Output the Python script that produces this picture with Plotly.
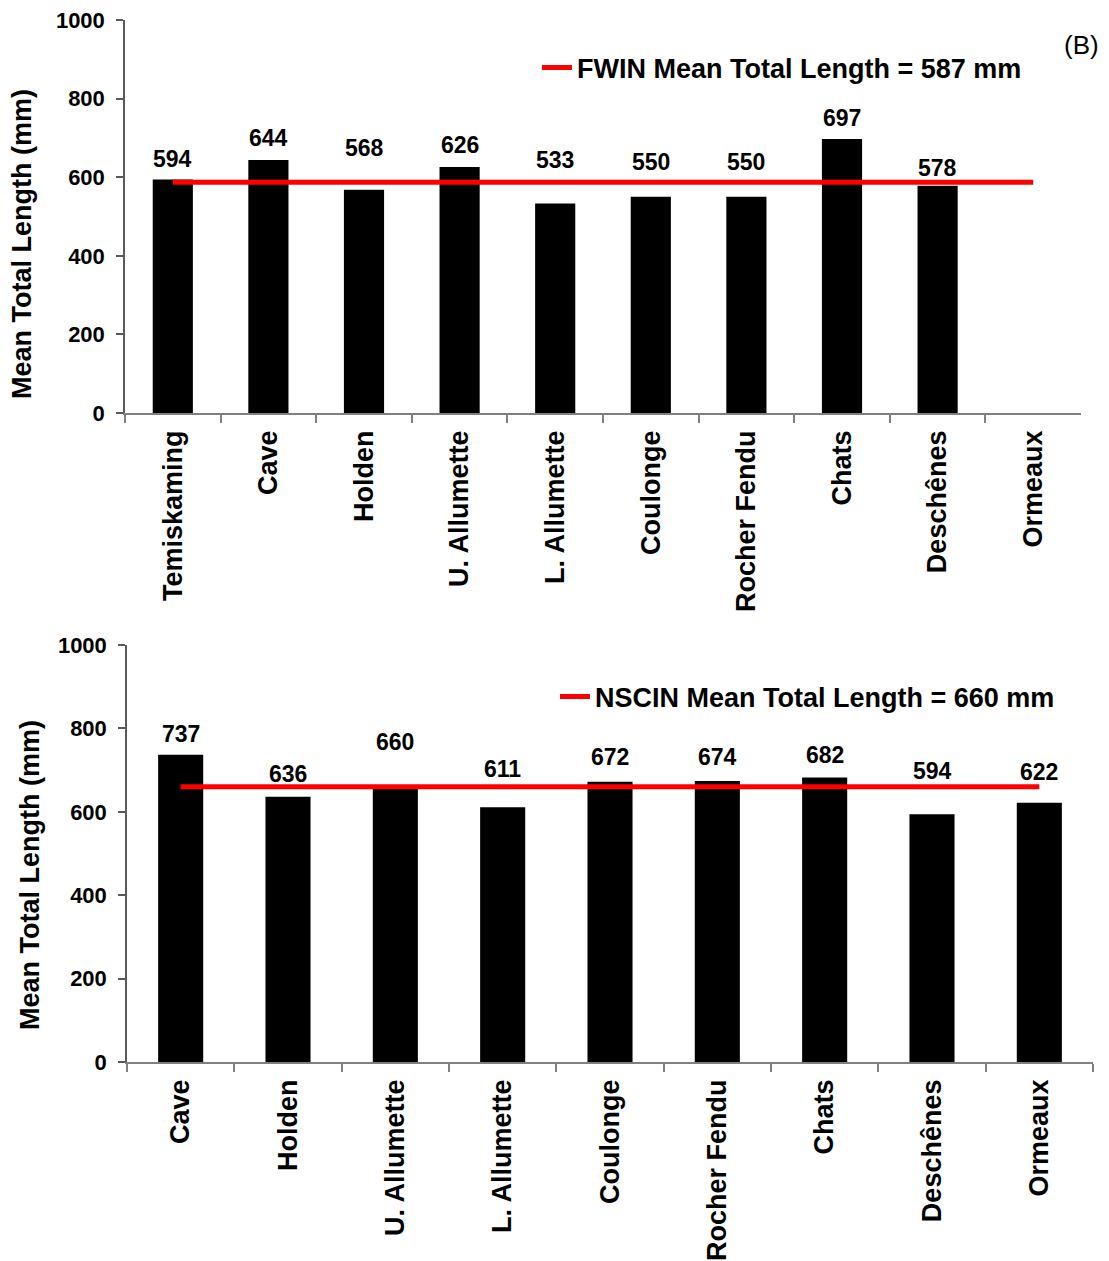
import plotly.graph_objects as go

# ---------------- data ----------------
top_categories = ["Temiskaming", "Cave", "Holden", "U. Allumette", "L. Allumette",
                  "Coulonge", "Rocher Fendu", "Chats", "Deschênes", "Ormeaux"]
top_values = [594, 644, 568, 626, 533, 550, 550, 697, 578, None]
top_mean = 587
top_mean_label = "FWIN Mean Total Length = 587 mm"

bottom_categories = ["Cave", "Holden", "U. Allumette", "L. Allumette", "Coulonge",
                     "Rocher Fendu", "Chats", "Deschênes", "Ormeaux"]
bottom_values = [737, 636, 660, 611, 672, 674, 682, 594, 622]
bottom_mean = 660
bottom_mean_label = "NSCIN Mean Total Length = 660 mm"

y_ticks = [0, 200, 400, 600, 800, 1000]

# label offsets (pixels above bar top), styling only
top_label_shift = [21, 22, 42, 22, 44, 35, 35, 21, 18]
bottom_label_shift = [21, 23, 45, 38, 25, 24, 23, 43, 31]

# ---------------- layout constants ----------------
W, H = 1109, 1261
OFF = 8  # page body margin
FW, FH = W - OFF, H - OFF
FONT = "Liberation Sans, Arial, sans-serif"


def px_x(v):
    return (v - OFF) / FW


def px_y(v):
    return 1 - (v - OFF) / FH


fig = go.Figure()

fig.add_trace(go.Bar(x=top_categories, y=top_values, marker_color="black",
                     marker_line_width=0, showlegend=False,
                     xaxis="x", yaxis="y"))
fig.add_trace(go.Scatter(x=[top_categories[0], top_categories[-1]], y=[top_mean, top_mean],
                         mode="lines", line=dict(color="#FF0000", width=5),
                         name=top_mean_label, legend="legend",
                         xaxis="x", yaxis="y"))

fig.add_trace(go.Bar(x=bottom_categories, y=bottom_values, marker_color="black",
                     marker_line_width=0, showlegend=False,
                     xaxis="x2", yaxis="y2"))
fig.add_trace(go.Scatter(x=[bottom_categories[0], bottom_categories[-1]], y=[bottom_mean, bottom_mean],
                         mode="lines", line=dict(color="#FF0000", width=5),
                         name=bottom_mean_label, legend="legend2",
                         xaxis="x2", yaxis="y2"))

annotations = []
for c, v, s in zip(top_categories, top_values, top_label_shift):
    if v is None:
        continue
    annotations.append(dict(x=c, y=v, xref="x", yref="y", text=str(v), showarrow=False,
                            xanchor="center", yanchor="middle", yshift=s,
                            font=dict(family=FONT, size=23, color="black", weight="bold")))
for c, v, s in zip(bottom_categories, bottom_values, bottom_label_shift):
    annotations.append(dict(x=c, y=v, xref="x2", yref="y2", text=str(v), showarrow=False,
                            xanchor="center", yanchor="middle", yshift=s,
                            font=dict(family=FONT, size=23, color="black", weight="bold")))

# y-axis titles
annotations.append(dict(x=px_x(22), y=px_y(244), xref="paper", yref="paper",
                        xanchor="center", yanchor="middle",
                        text="Mean Total Length (mm)", textangle=-90, showarrow=False,
                        font=dict(family=FONT, size=27, color="black", weight="bold")))
annotations.append(dict(x=px_x(30), y=px_y(875), xref="paper", yref="paper",
                        xanchor="center", yanchor="middle",
                        text="Mean Total Length (mm)", textangle=-90, showarrow=False,
                        font=dict(family=FONT, size=27, color="black", weight="bold")))
# panel letter
annotations.append(dict(x=px_x(1101), y=px_y(45), xref="paper", yref="paper",
                        xanchor="right", yanchor="middle",
                        text="(B)", showarrow=False,
                        font=dict(family=FONT, size=26, color="black")))

xaxis_common = dict(type="category", showline=True, linecolor="#808080", linewidth=1.5,
                    ticks="outside", tickson="boundaries", ticklen=8, tickcolor="#808080",
                    tickwidth=1.5, tickangle=-90, showgrid=False, zeroline=False,
                    automargin=False, ticklabeloverflow="allow", ticklabelstandoff=5,
                    tickfont=dict(family=FONT, size=27, color="black", weight="bold"))
yaxis_common = dict(range=[0, 1000], tickvals=y_ticks, showline=True, linecolor="#595959",
                    linewidth=1.5, ticks="outside", ticklen=7, tickcolor="#595959", tickwidth=1.5,
                    showgrid=False, zeroline=False, automargin=False, ticklabeloverflow="allow",
                    ticklabelstandoff=7,
                    tickfont=dict(family=FONT, size=22, color="black", weight="bold"))

fig.update_layout(
    width=FW, height=FH,
    margin=dict(l=0, r=0, t=0, b=0, autoexpand=False),
    paper_bgcolor="white", plot_bgcolor="white",
    bargap=0.58,
    xaxis=dict(domain=[px_x(125), px_x(1081)], anchor="y", **xaxis_common),
    yaxis=dict(domain=[px_y(413), px_y(20)], anchor="x", **yaxis_common),
    xaxis2=dict(domain=[px_x(127), px_x(1093)], anchor="y2", **xaxis_common),
    yaxis2=dict(domain=[px_y(1062), px_y(645)], anchor="x2", **yaxis_common),
    legend=dict(x=px_x(537), y=px_y(68), xanchor="left", yanchor="middle",
                bgcolor="rgba(0,0,0,0)", borderwidth=0,
                font=dict(family=FONT, size=27, color="black", weight="bold")),
    legend2=dict(x=px_x(555), y=px_y(697), xanchor="left", yanchor="middle",
                 bgcolor="rgba(0,0,0,0)", borderwidth=0,
                 font=dict(family=FONT, size=27, color="black", weight="bold")),
    annotations=annotations,
)

fig.write_html("out.html")
